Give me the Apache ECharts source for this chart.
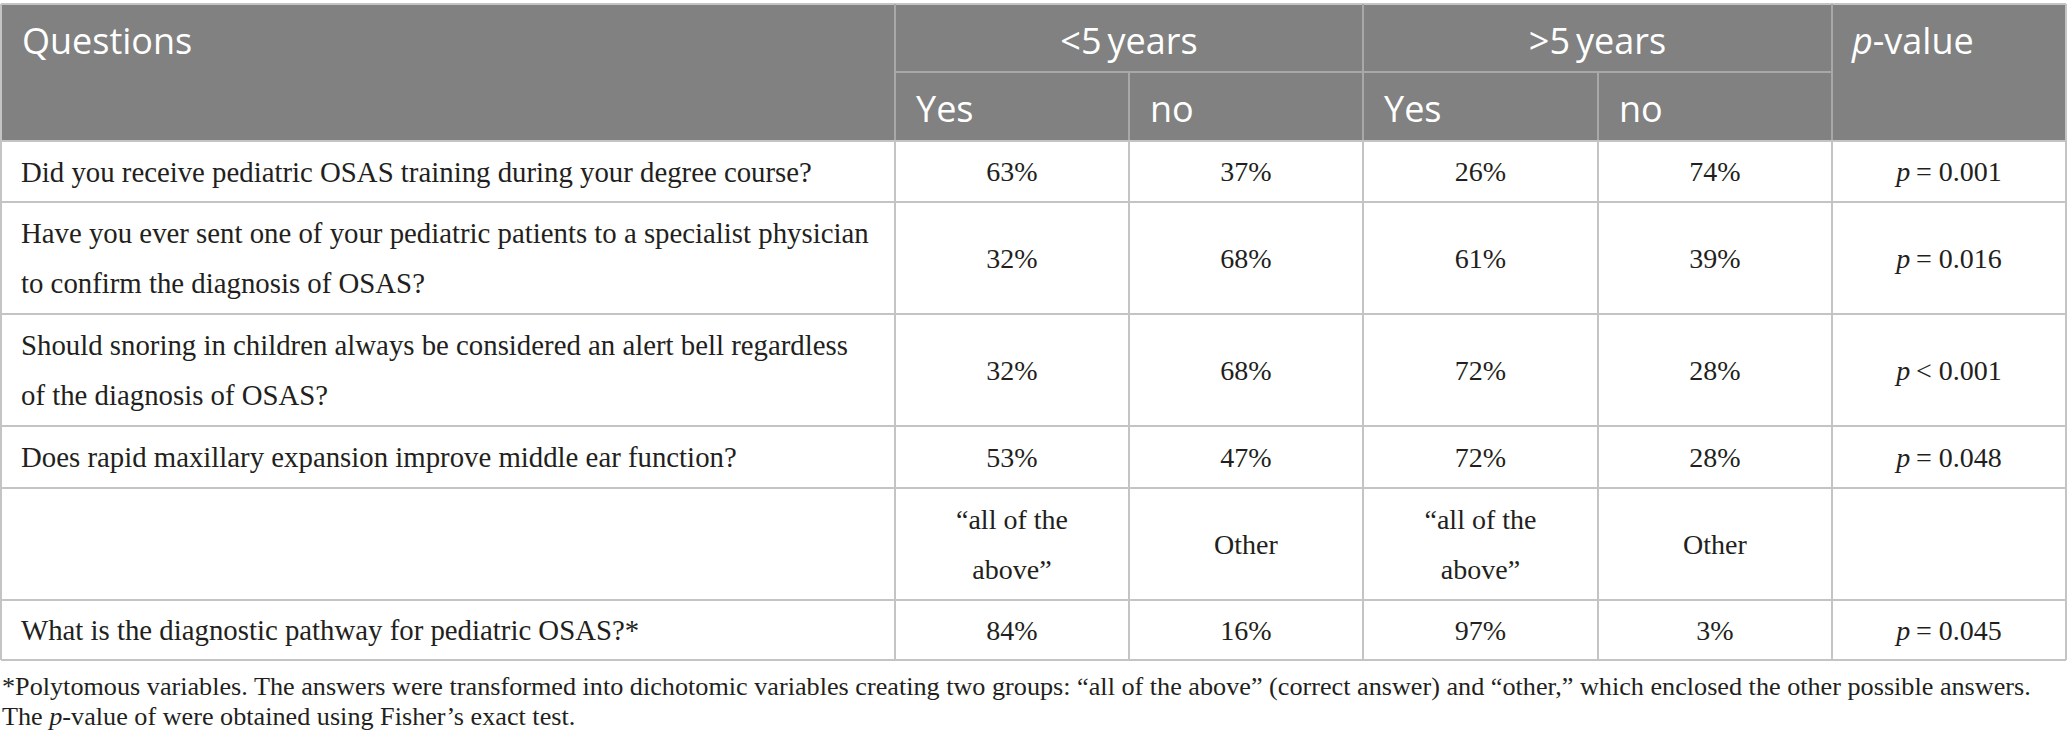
<!DOCTYPE html>
<html>
<head>
<meta charset="utf-8">
<script src="https://cdn.jsdelivr.net/npm/echarts@6/dist/echarts.min.js"></script>
<style>
html,body{margin:0;padding:0;background:#fff;}
#main{width:2067px;height:750px;}
</style>
</head>
<body>
<div id="main"></div>
<script>
// ---- data ----
const groupHeaders = ["<5\u2009years", ">5\u2009years"];
const subHeaders = ["Yes", "no", "Yes", "no"];
const questions = [
  "Did you receive pediatric OSAS training during your degree course?",
  "Have you ever sent one of your pediatric patients to a specialist physician\nto confirm the diagnosis of OSAS?",
  "Should snoring in children always be considered an alert bell regardless\nof the diagnosis of OSAS?",
  "Does rapid maxillary expansion improve middle ear function?",
  "What is the diagnostic pathway for pediatric OSAS?*"
];
const under5Yes = [63, 32, 32, 53, 84];
const under5No  = [37, 68, 68, 47, 16];
const over5Yes  = [26, 61, 72, 72, 97];
const over5No   = [74, 39, 28, 28, 3];
const pValues   = ["= 0.001", "= 0.016", "< 0.001", "= 0.048", "= 0.045"];
const answerRow = ["\u201call of the\nabove\u201d", "Other", "\u201call of the\nabove\u201d", "Other"];
const answerRowBefore = 4; // inserted before the last question
const footnotes = [
  "*Polytomous variables. The answers were transformed into dichotomic variables creating two groups: \u201call of the above\u201d (correct answer) and \u201cother,\u201d which enclosed the other possible answers.",
  "The {i|p}-value of were obtained using Fisher\u2019s exact test."
];

// ---- layout ----
const colX = [1, 895, 1129, 1363, 1598, 1832, 2066];
const headY = [4, 72, 141];
const rowY = [141, 202, 314, 426, 488, 600, 660];
const footY = [686, 716];
const headFill = '#808180';
const headLine = '#a8a8a8';
const gridLine = '#c4c4c4';
const txt = '#231f20';
const sans = '"Open Sans", "Noto Sans", sans-serif';
const serif = '"Liberation Serif", "DejaVu Serif", serif';
const bodySize = 28, qSize = 28.8, headSize = 36, footSize = 26.2, lh = 50;

const els = [];
els.push({type:'rect', shape:{x:colX[0], y:headY[0], width:colX[6]-colX[0], height:headY[2]-headY[0]}, style:{fill:headFill}, z:1});
function line(x1,y1,x2,y2,c,w){ els.push({type:'line', shape:{x1,y1,x2,y2}, style:{stroke:c, lineWidth:w||2}, z:5}); }
line(colX[0], headY[0], colX[6], headY[0], gridLine);
[1,3,5].forEach(i => line(colX[i], headY[0], colX[i], headY[2], headLine));
[2,4].forEach(i => line(colX[i], headY[1], colX[i], headY[2], headLine));
line(colX[1], headY[1], colX[5], headY[1], headLine);
rowY.forEach(y => line(colX[0], y, colX[6], y, gridLine));
colX.forEach(x => line(x, rowY[0], x, rowY[rowY.length-1], gridLine));
line(colX[0], headY[0], colX[0], headY[2], gridLine);
line(colX[6], headY[0], colX[6], headY[2], gridLine);

function text(t, x, y, o){
  o = o || {};
  els.push({type:'text', z:10, style:{
    text:t, x, y, align:o.align||'center', verticalAlign:'middle',
    fontFamily:o.font||serif, fontSize:o.size||bodySize, fill:o.fill||txt, lineHeight:o.lh||lh,
    rich:o.rich
  }});
}
const midTop = (headY[0]+headY[1])/2, midBot = (headY[1]+headY[2])/2;
const hOpt = {font:sans, size:headSize, fill:'#fff'};
text("Questions", colX[0]+21, midTop+2, Object.assign({align:'left'}, hOpt));
text(groupHeaders[0], (colX[1]+colX[3])/2, midTop+2, hOpt);
text(groupHeaders[1], (colX[3]+colX[5])/2, midTop+2, hOpt);
subHeaders.forEach((s,i) => text(s, colX[i+1]+21, midBot+2, Object.assign({align:'left'}, hOpt)));
text("{i|p}-value", colX[5]+20, midTop+2, Object.assign({align:'left',
  rich:{i:{fontFamily:sans, fontSize:headSize, fontStyle:'italic', fill:'#fff'}}}, hOpt));

const pct = v => v + '%';
let r = 0;
questions.forEach((q, qi) => {
  if (qi === answerRowBefore) {
    const cy = (rowY[r]+rowY[r+1])/2;
    answerRow.forEach((a, j) => text(a, (colX[j+1]+colX[j+2])/2, cy));
    r++;
  }
  const cy = (rowY[r]+rowY[r+1])/2;
  text(q, colX[0]+20, cy, {align:'left', size:qSize});
  const vals = [under5Yes[qi], under5No[qi], over5Yes[qi], over5No[qi]];
  vals.forEach((v, j) => text(pct(v), (colX[j+1]+colX[j+2])/2, cy));
  text('{i|p}\u2009' + pValues[qi], (colX[5]+colX[6])/2, cy,
    {rich:{i:{fontFamily:serif, fontSize:bodySize, fontStyle:'italic', fill:txt}}});
  r++;
});

footnotes.forEach((f, i) => text(f, 2, footY[i], {align:'left', size:footSize,
  rich:{i:{fontFamily:serif, fontSize:footSize, fontStyle:'italic', fill:txt}}}));

const chart = echarts.init(document.getElementById('main'), null, {renderer:'svg', width:2067, height:750});
chart.setOption({backgroundColor:'#fff', animation:false, graphic:{elements:els}});
</script>
</body>
</html>
